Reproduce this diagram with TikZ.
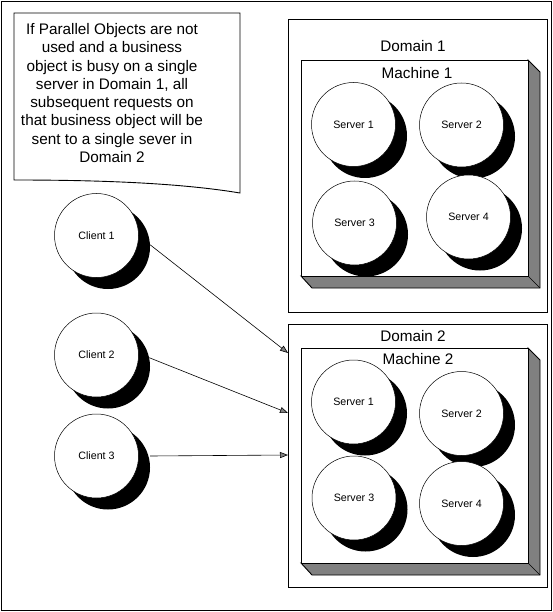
\documentclass[tikz,border=0pt]{standalone}
\usepackage{fontspec}
\setmainfont{Liberation Sans}
\usetikzlibrary{arrows.meta}
\definecolor{shgray}{RGB}{128,128,128}
\begin{document}
\begin{tikzpicture}[x=1pt,y=-1pt,
  frame/.style={draw=black,line width=0.9pt},
  bigtxt/.style={font=\fontsize{15.3}{18.3}\selectfont,inner sep=0pt},
  smalltxt/.style={font=\fontsize{10.7}{12}\selectfont,inner sep=0pt},
  disk/.style={circle,draw=black,line width=0.5pt,fill=white,minimum size=84pt,inner sep=0pt,font=\fontsize{10.7}{12}\selectfont},
  diskshadow/.style={circle,fill=black,draw=none,minimum size=84pt,inner sep=0pt},
  link/.style={draw=black,line width=0.6pt,-{Triangle[length=8pt,width=6pt,fill=shgray]}}]
\useasboundingbox (0,0) rectangle (553,612);
% outer frame
\draw[frame] (1,1) rectangle (551,610);
% note (document shape)
\draw[frame,fill=white] (14,13) -- (240,13) -- (240,193)
  .. controls (180,183) and (100,180) .. (14,180) -- cycle;
\node[bigtxt,align=center] (note) at (112,93) {If Parallel Objects are not\\used and a business\\object is busy on a single\\server in Domain 1, all\\subsequent requests on\\that business object will be\\sent to a single sever in\\Domain 2};
% domain boxes
\draw[frame] (288,19) rectangle (547,312);
\node[bigtxt] (d1) at (413,46) {Domain 1};
\draw[frame] (288,324) rectangle (547,587);
\node[bigtxt] (d2) at (413,336) {Domain 2};
\coordinate (dom2w) at (288,455);
% machine 1
\draw[frame,fill=shgray] (528,60) -- (540,72) -- (540,288) -- (312,288) -- (301,276) -- (528,276) -- cycle;
\draw[line width=0.6pt] (528,276) -- (540,288);
\draw[frame,fill=white] (301,60) rectangle (528,276);
\node[bigtxt] (m1) at (417,73) {Machine 1};
% machine 2
\draw[frame,fill=shgray] (528,348) -- (540,360) -- (540,575) -- (312,575) -- (301,563) -- (528,563) -- cycle;
\draw[line width=0.6pt] (528,563) -- (540,575);
\draw[frame,fill=white] (301,348) rectangle (528,563);
\node[bigtxt] (m2) at (418,359) {Machine 2};
% shadows
\foreach \n/\x/\y in {a1/353.5/124.5, a2/461.5/125, a3/354.5/223, a4/468.5/217,
                      b1/353.5/402, b2/461.5/413.5, b3/354/498, b4/461.5/503.5,
                      c1/96.5/235.5, c2/96.5/355, c3/96.5/456}
  \node[diskshadow] (\n s) at (\x+11.5,\y+11.5) {};
% disks
\node[disk] (a1) at (353.5,124.5) {Server 1};
\node[disk] (a2) at (461.5,125) {Server 2};
\node[disk] (a3) at (354.5,223) {Server 3};
\node[disk] (a4) at (468.5,217) {Server 4};
\node[disk] (b1) at (353.5,402) {Server 1};
\node[disk] (b2) at (461.5,413.5) {Server 2};
\node[disk] (b3) at (354,498) {Server 3};
\node[disk] (b4) at (461.5,503.5) {Server 4};
\node[disk] (c1) at (96.5,235.5) {Client 1};
\node[disk] (c2) at (96.5,355) {Client 2};
\node[disk] (c3) at (96.5,456) {Client 3};
% connectors
\coordinate (t1) at (288,353);
\coordinate (t2) at (288,413);
\draw[link] (c1s.3) -- (t1);
\draw[link] (c2s.12) -- (t2);
\draw[link] (c3s.east |- c3) -- (dom2w);
\end{tikzpicture}
\end{document}
